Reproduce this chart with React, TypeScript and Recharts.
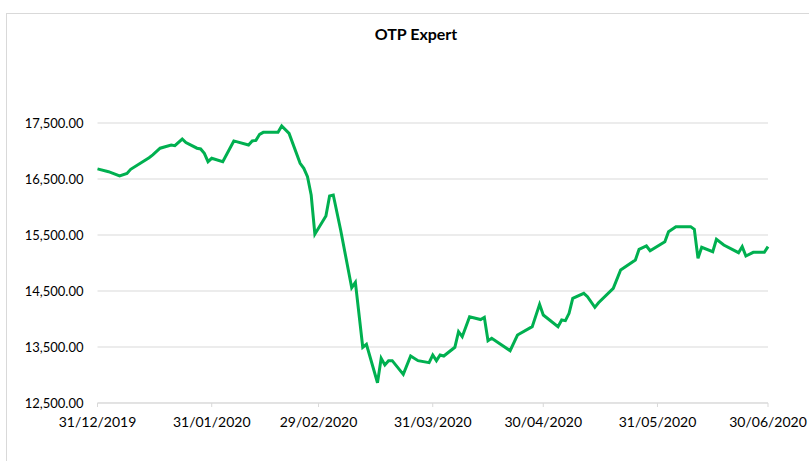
import { LineChart, Line, XAxis, YAxis, CartesianGrid } from "recharts";

// closing values (only the visible vertices)
const dates = [
  "2019-12-31", "2020-01-03", "2020-01-06", "2020-01-08", "2020-01-09", "2020-01-14",
  "2020-01-15", "2020-01-17", "2020-01-20", "2020-01-21", "2020-01-23", "2020-01-24",
  "2020-01-27", "2020-01-28", "2020-01-29", "2020-01-30", "2020-01-31", "2020-02-03",
  "2020-02-06", "2020-02-10", "2020-02-11", "2020-02-12", "2020-02-13", "2020-02-14",
  "2020-02-18", "2020-02-19", "2020-02-21", "2020-02-24", "2020-02-25", "2020-02-26",
  "2020-02-27", "2020-02-28", "2020-03-02", "2020-03-03", "2020-03-04", "2020-03-06",
  "2020-03-09", "2020-03-10", "2020-03-12", "2020-03-13", "2020-03-16", "2020-03-17",
  "2020-03-18", "2020-03-19", "2020-03-20", "2020-03-23", "2020-03-25", "2020-03-27",
  "2020-03-30", "2020-03-31", "2020-04-01", "2020-04-02", "2020-04-03", "2020-04-06",
  "2020-04-07", "2020-04-08", "2020-04-10", "2020-04-13", "2020-04-14", "2020-04-15",
  "2020-04-16", "2020-04-21", "2020-04-23", "2020-04-27", "2020-04-29", "2020-04-30",
  "2020-05-04", "2020-05-05", "2020-05-06", "2020-05-07", "2020-05-08", "2020-05-11",
  "2020-05-12", "2020-05-14", "2020-05-15", "2020-05-19", "2020-05-21", "2020-05-25",
  "2020-05-26", "2020-05-28", "2020-05-29", "2020-06-02", "2020-06-03", "2020-06-05",
  "2020-06-09", "2020-06-10", "2020-06-11", "2020-06-12", "2020-06-15", "2020-06-16",
  "2020-06-18", "2020-06-22", "2020-06-23", "2020-06-24", "2020-06-26", "2020-06-29",
  "2020-06-30",
];

const values = [
  16680, 16630, 16554, 16600, 16673, 16880,
  16930, 17050, 17107, 17095, 17214, 17150,
  17050, 17036, 16958, 16810, 16870, 16810,
  17180, 17107, 17180, 17190, 17298, 17333,
  17333, 17446, 17315, 16780, 16690, 16540,
  16214, 15515, 15839, 16196, 16214, 15589,
  14559, 14655, 13495, 13548, 12862, 13298,
  13179, 13256, 13256, 13012, 13339, 13256,
  13220, 13357, 13256, 13357, 13339, 13495,
  13773, 13684, 14041, 13990, 14030, 13613,
  13655, 13434, 13714, 13863, 14262, 14071,
  13863, 13982, 13970, 14101, 14369, 14458,
  14398, 14208, 14291, 14548, 14875, 15054,
  15244, 15304, 15220, 15381, 15560, 15649,
  15649, 15601, 15084, 15280, 15202, 15423,
  15321, 15184, 15292, 15125, 15190, 15190,
  15292,
];

const xTickDates = [
  "2019-12-31", "2020-01-31", "2020-02-29", "2020-03-31",
  "2020-04-30", "2020-05-31", "2020-06-30",
];
const yTicks = [12500, 13500, 14500, 15500, 16500, 17500];

const toTime = (s: string) => Date.parse(s + "T00:00:00Z");

const data = dates.map((d, i) => ({ t: toTime(d), value: values[i] }));
const xTicks = xTickDates.map(toTime);

const pad = (n: number) => (n < 10 ? "0" + n : "" + n);
const fmtDate = (t: number) => {
  const d = new Date(t);
  return pad(d.getUTCDate()) + "/" + pad(d.getUTCMonth() + 1) + "/" + d.getUTCFullYear();
};
const fmtNum = (v: number) =>
  v.toLocaleString("en-US", { minimumFractionDigits: 2, maximumFractionDigits: 2 });

const font = "Lato, 'Liberation Sans', sans-serif";

export default function App() {
  return (
    <div
      style={{
        position: "absolute",
        left: 0,
        top: 0,
        width: 809,
        height: 461,
        overflow: "hidden",
        background: "#fff",
        fontFamily: font,
      }}
    >
      <div
        style={{
          position: "absolute",
          left: 6,
          top: 13,
          width: 830,
          height: 470,
          border: "1px solid #d9d9d9",
        }}
      />
      <div
        style={{
          position: "absolute",
          left: 316,
          top: 24,
          width: 200,
          textAlign: "center",
          fontSize: 16,
          fontWeight: 700,
          color: "#000",
        }}
      >
        OTP Expert
      </div>
      <div style={{ position: "absolute", left: 0, top: 0 }}>
        <LineChart
          width={809}
          height={461}
          data={data}
          margin={{ top: 123, right: 41, bottom: 0, left: 0 }}
        >
          <CartesianGrid vertical={false} stroke="#d9d9d9" />
          <XAxis
            dataKey="t"
            type="number"
            scale="linear"
            domain={[xTicks[0], xTicks[xTicks.length - 1]]}
            ticks={xTicks}
            tickFormatter={fmtDate}
            interval={0}
            axisLine={{ stroke: "#d9d9d9" }}
            tickLine={{ stroke: "#d9d9d9" }}
            tickSize={4}
            tickMargin={10}
            tick={{ fill: "#000", fontSize: 14, fontFamily: font }}
            height={58}
          />
          <YAxis
            domain={[12500, 17500]}
            ticks={yTicks}
            tickFormatter={fmtNum}
            axisLine={false}
            tickLine={false}
            tickSize={6}
            tickMargin={8}
            width={97.5}
            tick={{ fill: "#000", fontSize: 13, fontFamily: font }}
          />
          <Line
            type="linear"
            dataKey="value"
            stroke="#00b050"
            strokeWidth={3}
            dot={false}
            isAnimationActive={false}
          />
        </LineChart>
      </div>
    </div>
  );
}
